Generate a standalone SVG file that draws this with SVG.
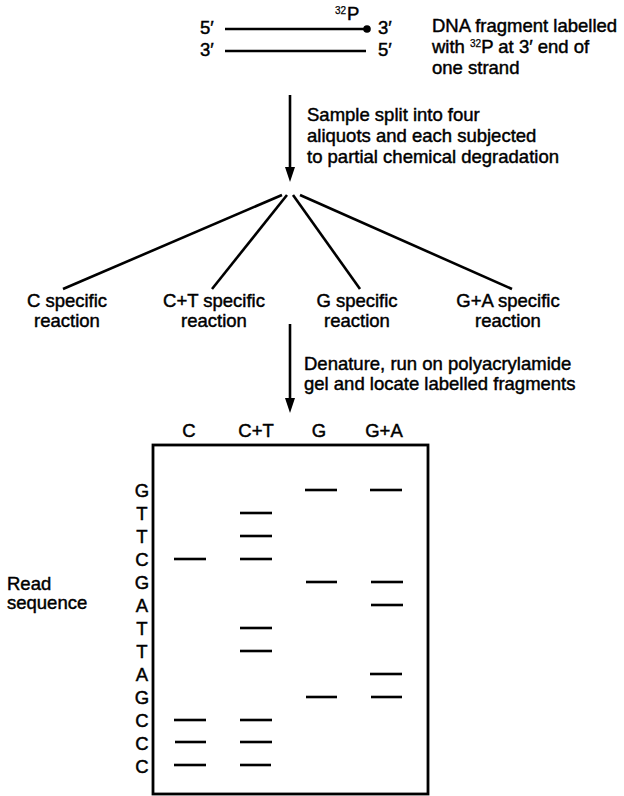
<svg xmlns="http://www.w3.org/2000/svg" width="624" height="796" viewBox="0 0 624 796">
<style>
text{font-family:"Liberation Sans",Arial,"DejaVu Sans",sans-serif;font-size:18.5px;fill:#000;stroke:#000;stroke-width:0.45}
.mid{text-anchor:middle}
.sup{font-size:10px;stroke-width:0.25}
.ln{stroke:#000;stroke-width:2.6;fill:none}
.band{stroke:#000;stroke-width:2.6}
.head{fill:#000}
</style>

<g id="dna">
<text x="200" y="34">5′</text>
<line class="ln" x1="225" y1="29" x2="366" y2="29"/>
<circle cx="367" cy="29" r="3.8" fill="#000"/>
<text x="335" y="14" class="sup">32</text>
<text x="347" y="20">P</text>
<text x="378" y="34">3′</text>
<text x="200" y="56">3′</text>
<line class="ln" x1="225" y1="51" x2="366" y2="51"/>
<text x="378" y="56">5′</text>
</g>

<g id="dna-label">
<text x="432" y="32">DNA fragment labelled</text>
<text x="432" y="53">with <tspan class="sup" dy="-6">32</tspan><tspan dy="6">P at 3′ end of</tspan></text>
<text x="432" y="74">one strand</text>
</g>

<g id="step1-label">
<text x="307" y="121">Sample split into four</text>
<text x="307" y="142">aliquots and each subjected</text>
<text x="307" y="163">to partial chemical degradation</text>
</g>

<g id="reaction-c"><text class="mid" x="67" y="307">C specific</text><text class="mid" x="67" y="327">reaction</text></g>
<g id="reaction-ct"><text class="mid" x="214" y="307">C+T specific</text><text class="mid" x="214" y="327">reaction</text></g>
<g id="reaction-g"><text class="mid" x="357" y="307">G specific</text><text class="mid" x="357" y="327">reaction</text></g>
<g id="reaction-ga"><text class="mid" x="508" y="307">G+A specific</text><text class="mid" x="508" y="327">reaction</text></g>

<g id="step2-label">
<text x="304" y="370">Denature, run on polyacrylamide</text>
<text x="304" y="390">gel and locate labelled fragments</text>
</g>

<g id="connectors">
<line class="ln" x1="290" y1="95" x2="290" y2="170"/>
<path class="head" d="M285,167 L295,167 L290,182 Z"/>
<line class="ln" x1="282" y1="195" x2="63" y2="289"/>
<line class="ln" x1="287" y1="195" x2="212" y2="289"/>
<line class="ln" x1="293" y1="195" x2="360" y2="289"/>
<line class="ln" x1="300" y1="195" x2="512" y2="289"/>
<line class="ln" x1="290" y1="324" x2="290" y2="400"/>
<path class="head" d="M285,398 L295,398 L290,413 Z"/>
</g>

<g id="gel">
<rect x="153" y="445" width="275" height="349" fill="none" stroke="#000" stroke-width="2.8"/>
<text class="mid" x="189" y="437">C</text>
<text class="mid" x="256" y="437">C+T</text>
<text class="mid" x="319" y="437">G</text>
<text class="mid" x="384" y="437">G+A</text>
<g id="sequence">
<text class="mid" x="142" y="497">G</text>
<text class="mid" x="142" y="520">T</text>
<text class="mid" x="142" y="543">T</text>
<text class="mid" x="142" y="566">C</text>
<text class="mid" x="142" y="589">G</text>
<text class="mid" x="142" y="612">A</text>
<text class="mid" x="142" y="635">T</text>
<text class="mid" x="142" y="658">T</text>
<text class="mid" x="142" y="681">A</text>
<text class="mid" x="142" y="704">G</text>
<text class="mid" x="142" y="727">C</text>
<text class="mid" x="142" y="750">C</text>
<text class="mid" x="142" y="773">C</text>
</g>
<g id="bands">
<line class="band" x1="305" y1="490" x2="337" y2="490"/>
<line class="band" x1="370" y1="490" x2="402" y2="490"/>
<line class="band" x1="240" y1="513" x2="272" y2="513"/>
<line class="band" x1="240" y1="536" x2="272" y2="536"/>
<line class="band" x1="174" y1="559" x2="206" y2="559"/>
<line class="band" x1="240" y1="559" x2="272" y2="559"/>
<line class="band" x1="306" y1="582" x2="337" y2="582"/>
<line class="band" x1="371" y1="582" x2="403" y2="582"/>
<line class="band" x1="371" y1="605" x2="403" y2="605"/>
<line class="band" x1="240" y1="628" x2="272" y2="628"/>
<line class="band" x1="240" y1="651" x2="272" y2="651"/>
<line class="band" x1="370" y1="674" x2="402" y2="674"/>
<line class="band" x1="306" y1="697" x2="337" y2="697"/>
<line class="band" x1="371" y1="697" x2="402" y2="697"/>
<line class="band" x1="174" y1="720" x2="206" y2="720"/>
<line class="band" x1="240" y1="720" x2="272" y2="720"/>
<line class="band" x1="175" y1="742" x2="206" y2="742"/>
<line class="band" x1="240" y1="742" x2="272" y2="742"/>
<line class="band" x1="174" y1="765" x2="206" y2="765"/>
<line class="band" x1="240" y1="765" x2="271" y2="765"/>
</g>
</g>

<g id="read-label">
<text x="7" y="590">Read</text>
<text x="7" y="609">sequence</text>
</g>
</svg>
